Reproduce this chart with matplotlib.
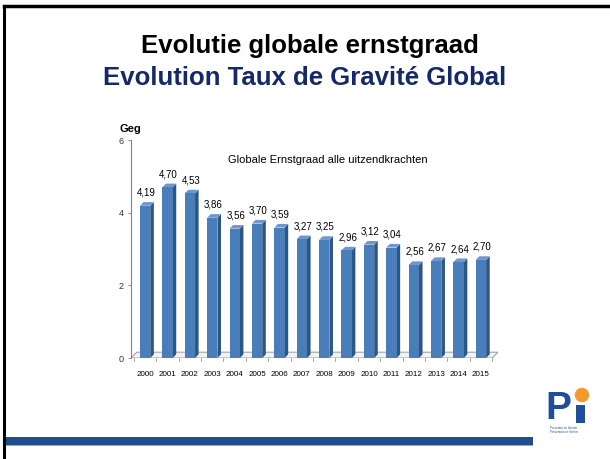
import matplotlib.pyplot as plt
from matplotlib.patches import Polygon, Rectangle, Ellipse
from matplotlib.lines import Line2D

years = [str(y) for y in range(2000, 2016)]
values = [4.19, 4.70, 4.53, 3.86, 3.56, 3.70, 3.59, 3.27, 3.25, 2.96, 3.12, 3.04, 2.56, 2.67, 2.64, 2.70]
labels = ["4,19", "4,70", "4,53", "3,86", "3,56", "3,70", "3,59", "3,27", "3,25", "2,96",
          "3,12", "3,04", "2,56", "2,67", "2,64", "2,70"]
yticks = [0, 2, 4, 6]

plt.rcParams["font.family"] = ["Liberation Sans", "DejaVu Sans"]

W, H = 610, 459
fig = plt.figure(figsize=(W / 100, H / 100), dpi=100)
fig.patch.set_facecolor("white")

def fx(px):
    return px / W

def fy(py):
    return 1 - py / H

# slide frame and bottom band
fig.add_artist(Line2D([fx(4), fx(4)], [fy(6), 0], color="black", lw=2.2))
fig.add_artist(Line2D([fx(4), fx(609)], [fy(6), fy(6)], color="black", lw=2.5))
fig.add_artist(Rectangle((fx(4), fy(445)), fx(529), 8 / H, color="#1F4E8C", lw=0))
fig.add_artist(Rectangle((fx(4), fy(446)), fx(529), 1 / H, color="#8DA9CF", lw=0))

# titles
fig.text(fx(310), fy(46), "Evolutie globale ernstgraad", ha="center", va="center",
         fontsize=18.5, fontweight="bold", color="black")
fig.text(fx(305), fy(78), "Evolution Taux de Gravité Global", ha="center", va="center",
         fontsize=18.5, fontweight="bold", color="#14286B")

# chart
ax = fig.add_axes([fx(131), fy(358), fx(367), (358 - 140) / H])
ax.set_xlim(-0.63, 15.76)
ax.set_ylim(0, 6)
for s in ["top", "right", "bottom"]:
    ax.spines[s].set_visible(False)
ax.spines["left"].set_color("#808080")
ax.spines["left"].set_linewidth(0.8)
ax.set_yticks(yticks)
ax.set_yticklabels([str(t) for t in yticks], fontsize=6.5, color="#333333")
ax.tick_params(axis="y", length=2, width=0.6, color="#808080", pad=3)
ax.set_xticks(range(len(years)))
ax.set_xticklabels(years, fontsize=5.8, color="black")
ax.tick_params(axis="x", length=0, pad=9)

dx, dy = 0.16, 0.1
bw = 0.46

# floor
floor = Polygon([(-0.63, 0), (15.5, 0), (15.5 + 0.26, 0.16), (-0.63 + 0.26, 0.16)],
                closed=True, facecolor="#F2F2F2", edgecolor="#9A9A9A", lw=0.7, zorder=1)
ax.add_patch(floor)
for i in range(len(years) + 1):
    xt = i - 0.5
    ax.plot([xt, xt], [0, -0.09], color="#9A9A9A", lw=0.6, clip_on=False, zorder=1)

for i, v in enumerate(values):
    x0 = i - bw / 2
    x1 = i + bw / 2
    side = Polygon([(x1, 0), (x1 + dx, dy), (x1 + dx, v + dy), (x1, v)], closed=True,
                   facecolor="#2C5684", edgecolor="none", zorder=2)
    top = Polygon([(x0, v), (x0 + dx, v + dy), (x1 + dx, v + dy), (x1, v)], closed=True,
                  facecolor="#6F97C9", edgecolor="none", zorder=2)
    ax.add_patch(side)
    ax.add_patch(top)
    ax.bar(i, v, width=bw, color="#4A7EBB", edgecolor="none", zorder=3)
    ax.text(i + 0.05, v + 0.22, labels[i], ha="center", va="bottom", fontsize=7,
            color="black", zorder=4)

ax.text(8.16, 5.45, "Globale Ernstgraad alle uitzendkrachten", ha="center", va="center",
        fontsize=8, color="black")
fig.text(fx(119), fy(129), "Geg", ha="left", va="center", fontsize=8, fontweight="bold")

# logo
fig.text(fx(558), fy(409), "P", ha="center", va="center", fontsize=28, fontweight="bold",
         color="#1F4E9C")
fig.add_artist(Rectangle((fx(576), fy(423)), fx(9), 18 / H, color="#1F4E9C", lw=0))
fig.add_artist(Ellipse((fx(582), fy(395)), 13 / W, 13 / H, color="#F29A2E",
                       transform=fig.transFigure))
fig.text(fx(564), fy(430), "Preventie en Interim\nPrévention et Intérim", ha="center",
         va="center", fontsize=2.2, color="#1F4E9C")

fig.savefig("out.png", dpi=100)
